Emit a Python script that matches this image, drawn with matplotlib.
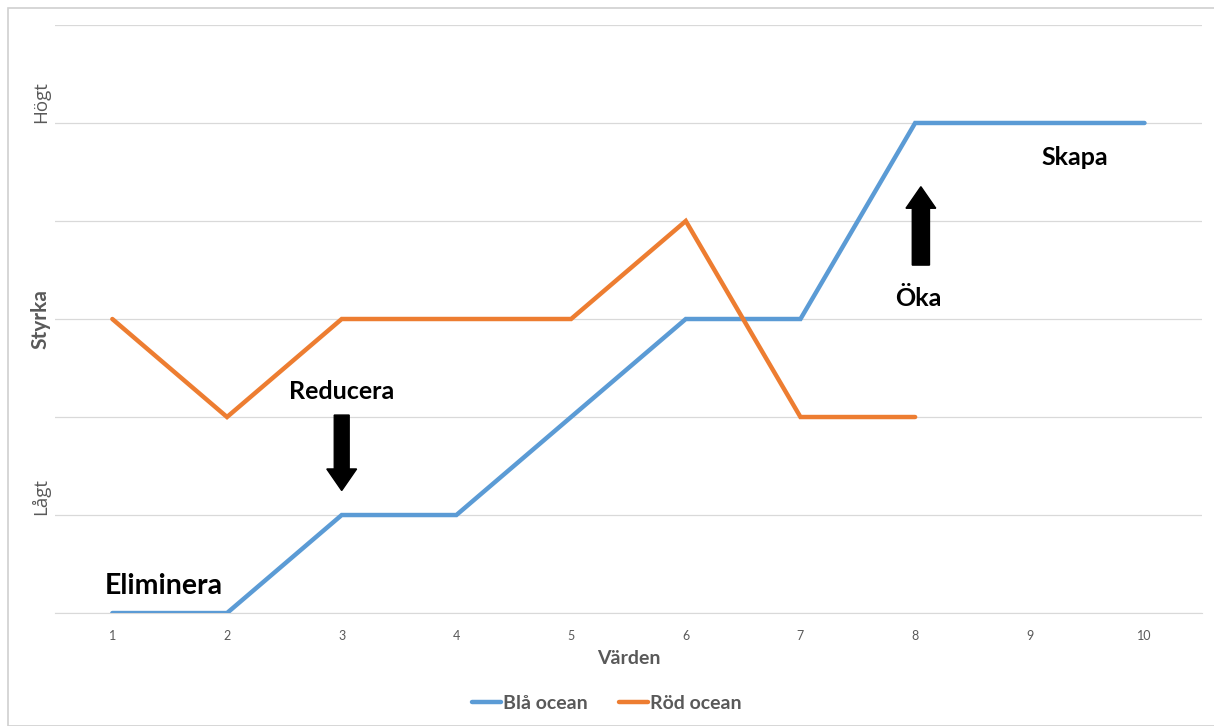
import matplotlib.pyplot as plt
from matplotlib.patches import Rectangle, FancyArrow

# Values on the x axis
categories = [1, 2, 3, 4, 5, 6, 7, 8, 9, 10]
# Strength per value
bla_ocean = [0, 0, 1, 1, 2, 3, 3, 5, 5, 5]
rod_ocean = [3, 2, 3, 3, 3, 4, 2, 2]
# Labelled y levels
ytick_pos = [1, 5]
ytick_labels = ["Lågt", "Högt"]

BLUE = "#5B9BD5"
ORANGE = "#ED7D31"
GRAY = "#595959"
GRID = "#D9D9D9"

plt.rcParams["font.family"] = ["Lato", "DejaVu Sans"]

fig = plt.figure(figsize=(12.14, 7.26), dpi=100)
ax = fig.add_axes([0.0453, 0.1556, 0.9447, 0.81])

ax.plot(categories, bla_ocean, color=BLUE, lw=3.2, solid_capstyle="round",
        solid_joinstyle="miter", label="Blå ocean", zorder=3)
ax.plot(categories[:len(rod_ocean)], rod_ocean, color=ORANGE, lw=3.2,
        solid_capstyle="round", solid_joinstyle="miter", label="Röd ocean", zorder=3)

ax.set_xlim(0.5, 10.5)
ax.set_ylim(0, 6)
ax.set_xticks(categories)
ax.set_xticklabels([str(c) for c in categories], color=GRAY, fontsize=9)
ax.set_yticks(range(0, 7))
ax.set_yticklabels([])
ax.tick_params(length=0, pad=12)
ax.grid(axis="y", color=GRID, lw=0.9)
ax.set_axisbelow(True)
for s in ["top", "right", "left"]:
    ax.spines[s].set_visible(False)
ax.spines["bottom"].set_color(GRID)

for p, lab in zip(ytick_pos, ytick_labels):
    ax.text(-0.004, p, lab, transform=ax.get_yaxis_transform(), rotation=90,
            ha="right", va="bottom", color=GRAY, fontsize=13.5, family="Open Sans")

ax.text(-0.004, 3, "Styrka", transform=ax.get_yaxis_transform(), rotation=90,
        ha="right", va="center", color=GRAY, fontsize=15, fontweight="bold")
ax.set_xlabel("Värden", color=GRAY, fontsize=14, fontweight="bold", labelpad=6)

# Strategy annotations
ax.text(1.45, 0.28, "Eliminera", fontsize=20.5, fontweight="bold", ha="center", va="center")
ax.text(3.0, 2.26, "Reducera", fontsize=18, fontweight="bold", ha="center", va="center")
ax.text(8.03, 3.21, "Öka", fontsize=18, fontweight="bold", ha="center", va="center")
ax.text(9.39, 4.65, "Skapa", fontsize=18, fontweight="bold", ha="center", va="center")

ax.add_patch(FancyArrow(3.0, 2.02, 0, -0.77, width=0.13, head_width=0.26,
                        head_length=0.22, length_includes_head=True,
                        color="black", zorder=4))
ax.add_patch(FancyArrow(8.05, 3.55, 0, 0.80, width=0.15, head_width=0.26,
                        head_length=0.22, length_includes_head=True,
                        color="black", zorder=4))

leg = fig.legend(loc="lower center", bbox_to_anchor=(0.5, -0.005), ncol=2, frameon=False,
                 handlelength=1.5, handletextpad=0.1, columnspacing=1.6,
                 prop={"size": 14, "weight": "bold"})
for t in leg.get_texts():
    t.set_color(GRAY)

fig.patches.append(Rectangle((8 / 1214, 0), 1.2, 1 - 8 / 726, transform=fig.transFigure,
                             fill=False, edgecolor="#D0D0D0", lw=1.2))

fig.savefig("out.png", dpi=100)
